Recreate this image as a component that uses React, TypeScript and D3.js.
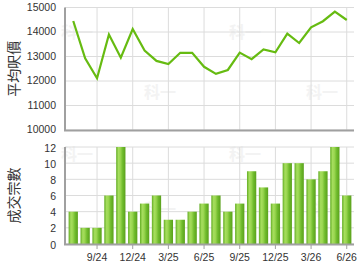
import React from "react";
import * as d3 from "d3";

const months = ["7/24","8/24","9/24","10/24","11/24","12/24","1/25","2/25","3/25","4/25","5/25","6/25","7/25","8/25","9/25","10/25","11/25","12/25","1/26","2/26","3/26","4/26","5/26","6/26"];
const avgPrice = [14450,12930,12110,13900,12950,14120,13240,12820,12690,13150,13150,12580,12290,12450,13160,12890,13290,13170,13930,13550,14190,14440,14830,14490];
const dealCount = [4,2,2,6,12,4,5,6,3,3,4,5,6,4,5,9,7,5,10,10,8,9,12,6];
const xTickLabels = ["9/24","12/24","3/25","6/25","9/25","12/25","3/26","6/26"];
const priceTicks = [10000,11000,12000,13000,14000,15000];
const countTicks = [0,2,4,6,8,10,12];
const marks = ["科一"];

export default function App() {
  const W = 360, H = 270;
  const left = 65, right = 354;
  const x = d3.scaleBand<string>().domain(months).range([66, 354]).padding(0.22);
  const cx = (m: string) => (x(m) as number) + x.bandwidth() / 2;

  const yTop = d3.scaleLinear().domain([10000, 15000]).range([130, 7.5]);
  const yBot = d3.scaleLinear().domain([0, 12]).range([244, 147]);

  const line = d3.line<number>().x((_, i) => cx(months[i])).y((d) => yTop(d));

  const font = "'Liberation Sans', Arial, sans-serif";
  const wm = [
    [77, 38], [160, 98], [245, 38], [322, 98],
    [77, 160], [160, 215], [245, 160], [322, 215],
  ];

  return (
    <svg width={W} height={H} style={{ position: "absolute", left: 0, top: 0, background: "#fff" }} fontFamily={font}>
      <defs>
        <linearGradient id="barg" x1="0" x2="1" y1="0" y2="0">
          <stop offset="0%" stopColor="#62ac22" />
          <stop offset="25%" stopColor="#a6de5e" />
          <stop offset="45%" stopColor="#9ad650" />
          <stop offset="70%" stopColor="#6fbb2c" />
          <stop offset="100%" stopColor="#5aa01c" />
        </linearGradient>
      </defs>
      {wm.map(([a, b], i) => (
        <text key={"wm" + i} x={a} y={b} fontSize={16} fontWeight="bold" fill="#f3f3f3" textAnchor="middle" fontFamily="'Noto Sans CJK TC', sans-serif">{marks[0]}</text>
      ))}
      {priceTicks.map((t) => (
        <line key={"hg" + t} x1={left} x2={right} y1={yTop(t)} y2={yTop(t)} stroke="#dcdcdc" strokeWidth={1} />
      ))}
      {xTickLabels.map((m) => (
        <line key={"vg" + m} x1={cx(m)} x2={cx(m)} y1={yTop(15000)} y2={130} stroke="#dcdcdc" strokeWidth={1} />
      ))}
      {countTicks.map((t) => (
        <line key={"hb" + t} x1={left} x2={right} y1={yBot(t)} y2={yBot(t)} stroke="#dcdcdc" strokeWidth={1} />
      ))}
      {xTickLabels.map((m) => (
        <line key={"vb" + m} x1={cx(m)} x2={cx(m)} y1={yBot(12)} y2={244} stroke="#dcdcdc" strokeWidth={1} />
      ))}
      <path d={line(avgPrice) || ""} fill="none" stroke="#66bb11" strokeWidth={2.2} strokeLinejoin="miter" />
      {dealCount.map((v, i) => (
        <rect key={"b" + i} x={x(months[i])} y={yBot(v)} width={x.bandwidth()} height={yBot(0) - yBot(v)} fill="url(#barg)" />
      ))}
      <line x1={left} x2={left} y1={yTop(15000)} y2={131} stroke="#a0a0a0" strokeWidth={2} />
      <line x1={left - 1} x2={right} y1={130.5} y2={130.5} stroke="#a0a0a0" strokeWidth={2} />
      <line x1={left} x2={left} y1={147} y2={245} stroke="#a0a0a0" strokeWidth={2} />
      <line x1={left - 1} x2={right} y1={244.5} y2={244.5} stroke="#a0a0a0" strokeWidth={2} />
      {xTickLabels.map((m) => (
        <line key={"tk" + m} x1={cx(m)} x2={cx(m)} y1={245} y2={249} stroke="#a0a0a0" strokeWidth={1} />
      ))}
      {priceTicks.map((t) => (
        <text key={"pl" + t} x={56} y={yTop(t) + 3} fontSize={10.5} fill="#333" textAnchor="end">{t}</text>
      ))}
      {countTicks.map((t) => (
        <text key={"cl" + t} x={56} y={yBot(t) + 4.5} fontSize={10.5} fill="#333" textAnchor="end">{t}</text>
      ))}
      {xTickLabels.map((m) => (
        <text key={"xl" + m} x={cx(m)} y={261} fontSize={10.5} fill="#333" textAnchor="middle">{m}</text>
      ))}
      <text transform={`translate(19,${yTop(12500)}) rotate(-90)`} fontSize={14} fill="#333" textAnchor="middle" fontFamily="'Noto Sans CJK TC', sans-serif">平均呎價</text>
      <text transform={`translate(19,${yBot(6)}) rotate(-90)`} fontSize={14} fill="#333" textAnchor="middle" fontFamily="'Noto Sans CJK TC', sans-serif">成交宗數</text>
    </svg>
  );
}
